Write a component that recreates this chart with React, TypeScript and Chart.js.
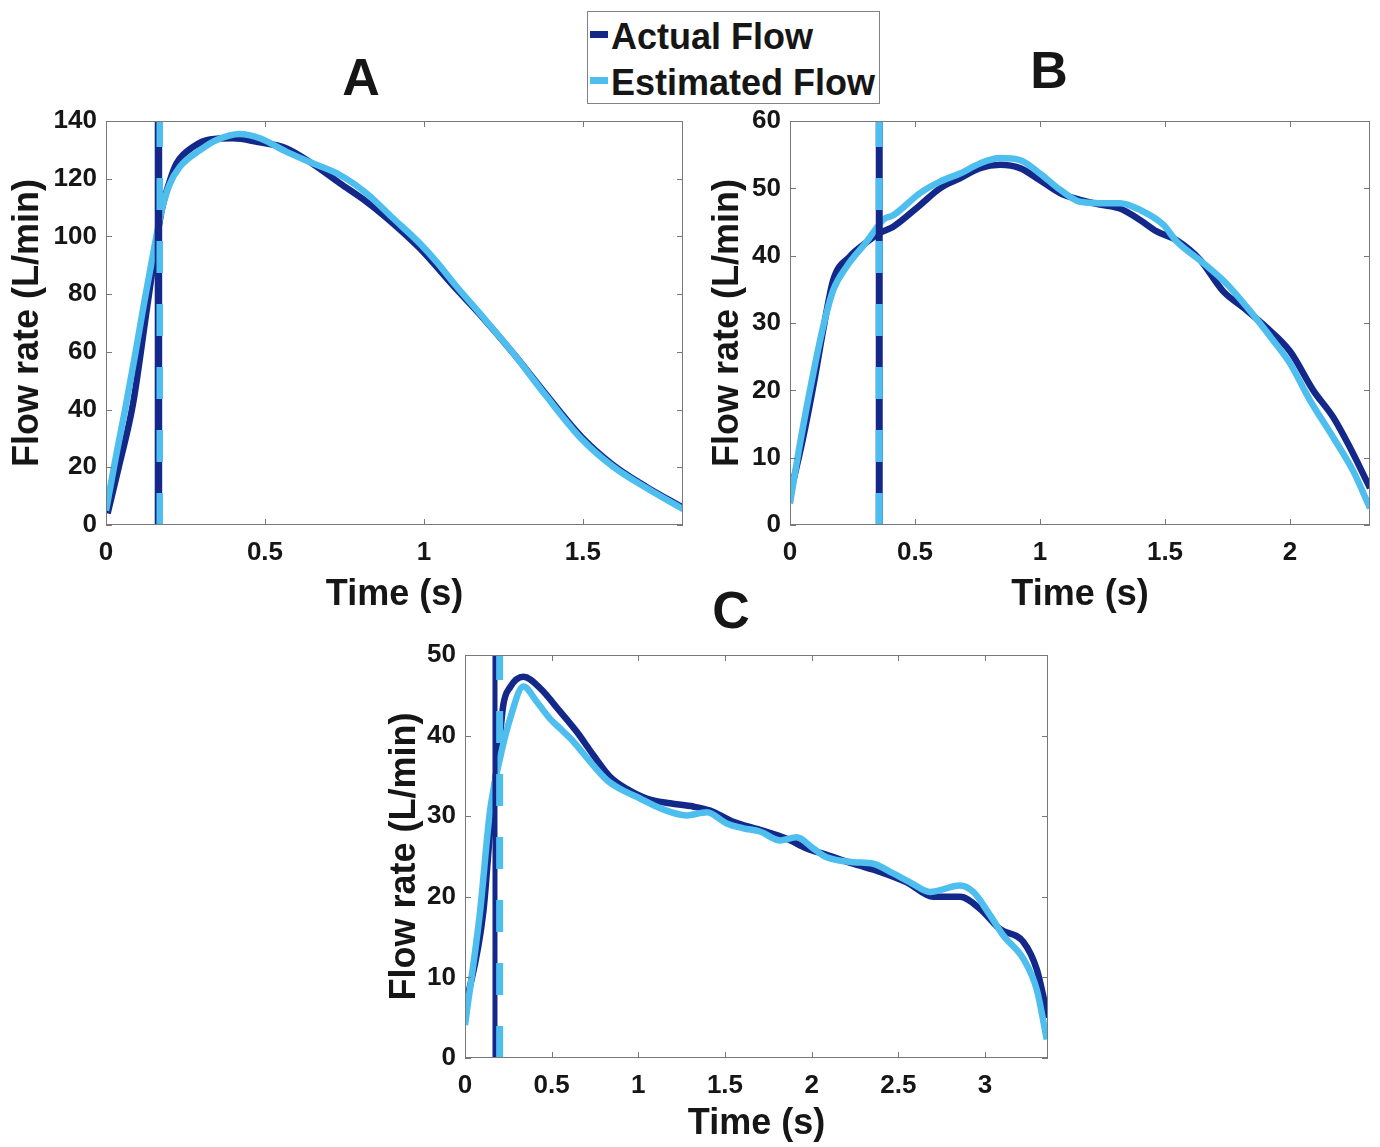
import React, { useEffect, useRef } from "react";
import { Chart, registerables } from "chart.js";

Chart.register(...registerables);

const DARK = "rgb(20,40,138)";
const LIGHT = "rgb(77,190,238)";
const TEXT = "#161616";
const AXIS = "rgb(120,120,120)";
const FONT = '"Liberation Sans", Arial, Helvetica, sans-serif';

// ---------- Panel A ----------
const timeActualA = [0.005, 0.04, 0.085, 0.13, 0.175, 0.2, 0.222, 0.275, 0.327, 0.4, 0.474, 0.568, 0.652, 0.736, 0.82, 0.903, 0.987, 1.1, 1.176, 1.281, 1.386, 1.496, 1.595, 1.7, 1.815];
const flowActualA = [4, 20, 42, 76, 109, 119, 125.3, 131.1, 133.6, 134, 132.8, 130.5, 125, 118.4, 112, 104.5, 95.9, 82, 73, 59.5, 45, 30.5, 20.8, 13.2, 6];
const timeEstA = [0, 0.03, 0.06, 0.09, 0.12, 0.15, 0.175, 0.2, 0.233, 0.296, 0.348, 0.421, 0.484, 0.568, 0.652, 0.736, 0.82, 0.903, 0.987, 1.04, 1.1, 1.176, 1.281, 1.386, 1.496, 1.595, 1.7, 1.815];
const flowEstA = [5, 23, 40, 58, 77, 95, 109, 118, 124.2, 129.9, 133.4, 135.5, 134, 129.3, 125.3, 121.3, 114.9, 106.3, 97.6, 91.2, 83, 73.3, 59.5, 44.5, 29.8, 20.2, 12.8, 5.5];
const markerActualA = 0.165;
const markerEstA = 0.169;

// ---------- Panel B ----------
const timeActualB = [0, 0.05, 0.1, 0.133, 0.173, 0.24, 0.3, 0.356, 0.413, 0.52, 0.6, 0.68, 0.76, 0.84, 0.92, 1.0, 1.08, 1.16, 1.24, 1.32, 1.4, 1.467, 1.547, 1.64, 1.733, 1.813, 1.907, 2.0, 2.093, 2.173, 2.24, 2.32];
const flowActualB = [4.5, 12.5, 22, 29, 36.4, 39.9, 41.8, 43.3, 44.3, 47.5, 50, 51.5, 53, 53.5, 53, 51.2, 49.3, 48.3, 47.6, 47, 45.3, 43.6, 42.3, 39.4, 34.7, 32.3, 29.3, 25.8, 20, 16, 11.5, 5.5];
const timeEstB = [0, 0.04, 0.093, 0.133, 0.173, 0.227, 0.307, 0.356, 0.375, 0.413, 0.52, 0.6, 0.68, 0.76, 0.84, 0.92, 1.0, 1.08, 1.16, 1.24, 1.32, 1.4, 1.493, 1.547, 1.64, 1.747, 1.84, 1.933, 2.0, 2.08, 2.173, 2.253, 2.32];
const flowEstB = [3.2, 12.1, 22.5, 29.5, 34.9, 38.4, 42.1, 44.6, 45.4, 46, 49.3, 51, 52.2, 53.7, 54.5, 54.2, 52.2, 49.8, 48, 47.8, 47.8, 46.8, 44.6, 42.1, 39.3, 35.8, 31.8, 27.4, 24, 18.5, 13, 8, 2.5];
const markerActualB = 0.357;
const markerEstB = 0.357;

// ---------- Panel C ----------
const timeActualC = [0, 0.106, 0.154, 0.19, 0.221, 0.26, 0.337, 0.433, 0.548, 0.644, 0.74, 0.837, 0.933, 1.048, 1.183, 1.317, 1.414, 1.548, 1.702, 1.856, 1.972, 2.087, 2.24, 2.395, 2.549, 2.702, 2.856, 2.972, 3.087, 3.222, 3.299, 3.364];
const flowActualC = [6, 18.2, 30.6, 37.2, 43.8, 46, 47.3, 45.9, 43, 40.5, 37.6, 34.9, 33.4, 32.2, 31.6, 31.2, 30.7, 29.3, 28.3, 27.2, 26, 25.2, 24.1, 23.1, 21.8, 20, 20, 18.5, 16, 14.4, 11, 5];
const timeEstC = [0, 0.087, 0.144, 0.198, 0.26, 0.337, 0.414, 0.49, 0.548, 0.606, 0.644, 0.74, 0.818, 0.894, 1.01, 1.125, 1.279, 1.395, 1.51, 1.606, 1.702, 1.818, 1.914, 2.01, 2.087, 2.24, 2.356, 2.471, 2.568, 2.683, 2.856, 2.933, 3.03, 3.106, 3.222, 3.299, 3.357];
const flowEstC = [4.1, 18.2, 30.6, 36.8, 42.1, 46.1, 44.2, 42.1, 40.9, 39.7, 38.8, 36.3, 34.5, 33.4, 32.2, 31, 30.1, 30.5, 29.1, 28.5, 28.1, 27, 27.4, 26, 24.9, 24.3, 24.1, 22.9, 21.8, 20.6, 21.4, 20.6, 17.7, 15.2, 12.3, 8.5, 2.3];
const markerActualC = 0.173;
const markerEstC = 0.2;

const seriesLabels = ["Actual Flow", "Estimated Flow"];
const xTitle = "Time (s)";
const yTitle = "Flow rate (L/min)";

const toPoints = (t: number[], v: number[]) => t.map((x, i) => ({ x, y: v[i] }));

const boxPlugin = {
  id: "matlabBox",
  afterDatasetsDraw(chart: any) {
    const { ctx } = chart;
    const { left, right, top, bottom } = chart.chartArea;
    const xs = chart.scales.x;
    const ys = chart.scales.y;
    const L = 6;
    ctx.save();
    ctx.strokeStyle = AXIS;
    ctx.lineWidth = 1;
    ctx.strokeRect(left + 0.5, top + 0.5, right - left - 1, bottom - top - 1);
    ctx.beginPath();
    xs.ticks.forEach((t: any) => {
      const p = Math.round(xs.getPixelForValue(t.value)) + 0.5;
      ctx.moveTo(p, bottom);
      ctx.lineTo(p, bottom - L);
      ctx.moveTo(p, top);
      ctx.lineTo(p, top + L);
    });
    ys.ticks.forEach((t: any) => {
      const p = Math.round(ys.getPixelForValue(t.value)) + 0.5;
      ctx.moveTo(left, p);
      ctx.lineTo(left + L, p);
      ctx.moveTo(right, p);
      ctx.lineTo(right - L, p);
    });
    ctx.stroke();
    ctx.restore();
  },
};

type Panel = {
  tA: number[]; vA: number[]; tE: number[]; vE: number[];
  mA: number; mE: number; mAW: number; mEW: number;
  xMax: number; yMax: number; yStep: number;
  w: number; h: number; top: number; right: number; yW: number; xH: number;
  yTitlePad: number; xTitlePad: number;
};

const fmt = (v: any) => String(Math.round(Number(v) * 100) / 100);

function makeConfig(p: Panel): any {
  const tickFont = { family: FONT, size: 26, weight: "bold" as const };
  const titleFont = { family: FONT, size: 36, weight: "bold" as const };
  return {
    type: "line",
    data: {
      datasets: [
        {
          label: seriesLabels[1] + " marker",
          data: [{ x: p.mE, y: 0 }, { x: p.mE, y: p.yMax }],
          borderColor: LIGHT, borderWidth: p.mEW, borderDash: [32, 31],
          pointRadius: 0, tension: 0, borderCapStyle: "butt",
        },
        {
          label: seriesLabels[0] + " marker",
          data: [{ x: p.mA, y: 0 }, { x: p.mA, y: p.yMax }],
          borderColor: DARK, borderWidth: p.mAW,
          pointRadius: 0, tension: 0, borderCapStyle: "butt",
        },
        {
          label: seriesLabels[1],
          data: toPoints(p.tE, p.vE),
          borderColor: LIGHT, borderWidth: 6.5, pointRadius: 0,
          cubicInterpolationMode: "monotone", borderJoinStyle: "round",
        },
        {
          label: seriesLabels[0],
          data: toPoints(p.tA, p.vA),
          borderColor: DARK, borderWidth: 6.5, pointRadius: 0,
          cubicInterpolationMode: "monotone", borderJoinStyle: "round",
        },
      ],
    },
    options: {
      responsive: false,
      animation: false,
      events: [],
      layout: { padding: { left: 0, top: p.top, right: p.right, bottom: 0 } },
      plugins: { legend: { display: false }, tooltip: { enabled: false }, title: { display: false } },
      scales: {
        x: {
          type: "linear", min: 0, max: p.xMax,
          afterFit: (s: any) => { s.height = p.xH; },
          grid: { display: false, drawTicks: false, tickLength: 0 },
          border: { display: false },
          ticks: { stepSize: 0.5, includeBounds: false, padding: 12, color: TEXT, font: tickFont, maxRotation: 0, autoSkip: false, callback: fmt },
          title: { display: true, text: xTitle, color: TEXT, font: titleFont, padding: { top: 0, bottom: p.xTitlePad } },
        },
        y: {
          type: "linear", min: 0, max: p.yMax,
          afterFit: (s: any) => { s.width = p.yW; },
          grid: { display: false, drawTicks: false, tickLength: 0 },
          border: { display: false },
          ticks: { stepSize: p.yStep, padding: 9, color: TEXT, font: tickFont, autoSkip: false, callback: fmt },
          title: { display: true, text: yTitle, color: TEXT, font: titleFont, padding: { top: p.yTitlePad, bottom: 0 } },
        },
      },
    },
    plugins: [boxPlugin],
  };
}

function ChartPanel({ panel, left, top }: { panel: Panel; left: number; top: number }) {
  const ref = useRef<HTMLCanvasElement | null>(null);
  useEffect(() => {
    if (!ref.current) return;
    const chart = new Chart(ref.current, makeConfig(panel));
    return () => chart.destroy();
  }, [panel]);
  return (
    <canvas
      ref={ref}
      width={panel.w}
      height={panel.h}
      style={{ position: "absolute", left, top, width: panel.w, height: panel.h }}
    />
  );
}

const panelA: Panel = {
  tA: timeActualA, vA: flowActualA, tE: timeEstA, vE: flowEstA,
  mA: markerActualA, mE: markerEstA, mAW: 7.5, mEW: 6.5,
  xMax: 1.815, yMax: 140, yStep: 20,
  w: 700, h: 545, top: 41, right: 17, yW: 106, xH: 100, yTitlePad: 6.5, xTitlePad: 8,
};
const panelB: Panel = {
  tA: timeActualB, vA: flowActualB, tE: timeEstB, vE: flowEstB,
  mA: markerActualB, mE: markerEstB, mAW: 7, mEW: 7,
  xMax: 2.32, yMax: 60, yStep: 10,
  w: 680, h: 545, top: 41, right: 10, yW: 90, xH: 100, yTitlePad: 6.5, xTitlePad: 8,
};
const panelC: Panel = {
  tA: timeActualC, vA: flowActualC, tE: timeEstC, vE: flowEstC,
  mA: markerActualC, mE: markerEstC, mAW: 5, mEW: 7,
  xMax: 3.364, yMax: 50, yStep: 10,
  w: 720, h: 524, top: 33, right: 32, yW: 105, xH: 88, yTitlePad: 23, xTitlePad: 0,
};

const letterStyle = (left: number, top: number): React.CSSProperties => ({
  position: "absolute", left: left - 50, top, width: 100, textAlign: "center",
  font: `bold 52px ${FONT}`, lineHeight: "52px", color: TEXT, zIndex: 2,
});

export default function App() {
  return (
    <div style={{ position: "absolute", left: 0, top: 0, width: 1380, height: 1146, background: "#fff", overflow: "hidden" }}>
      <ChartPanel panel={panelA} left={0} top={80} />
      <ChartPanel panel={panelB} left={700} top={80} />
      <ChartPanel panel={panelC} left={360} top={622} />
      <div style={letterStyle(361, 51)}>A</div>
      <div style={letterStyle(1049, 44)}>B</div>
      <div style={letterStyle(731, 584)}>C</div>
      <div
        style={{
          position: "absolute", left: 587, top: 11, width: 293, height: 93, boxSizing: "border-box",
          border: "1px solid rgb(130,130,130)", background: "#fff", zIndex: 3,
        }}
      >
        <div style={{ position: "absolute", left: 2, top: 19, width: 18, height: 7, background: DARK }} />
        <div style={{ position: "absolute", left: 2, top: 65, width: 18, height: 7, background: LIGHT }} />
        <span style={{ position: "absolute", left: 23, top: 6.5, font: `bold 36px ${FONT}`, lineHeight: "36px", color: TEXT, whiteSpace: "nowrap" }}>{seriesLabels[0]}</span>
        <span style={{ position: "absolute", left: 23, top: 53, font: `bold 36px ${FONT}`, lineHeight: "36px", color: TEXT, whiteSpace: "nowrap" }}>{seriesLabels[1]}</span>
      </div>
    </div>
  );
}
